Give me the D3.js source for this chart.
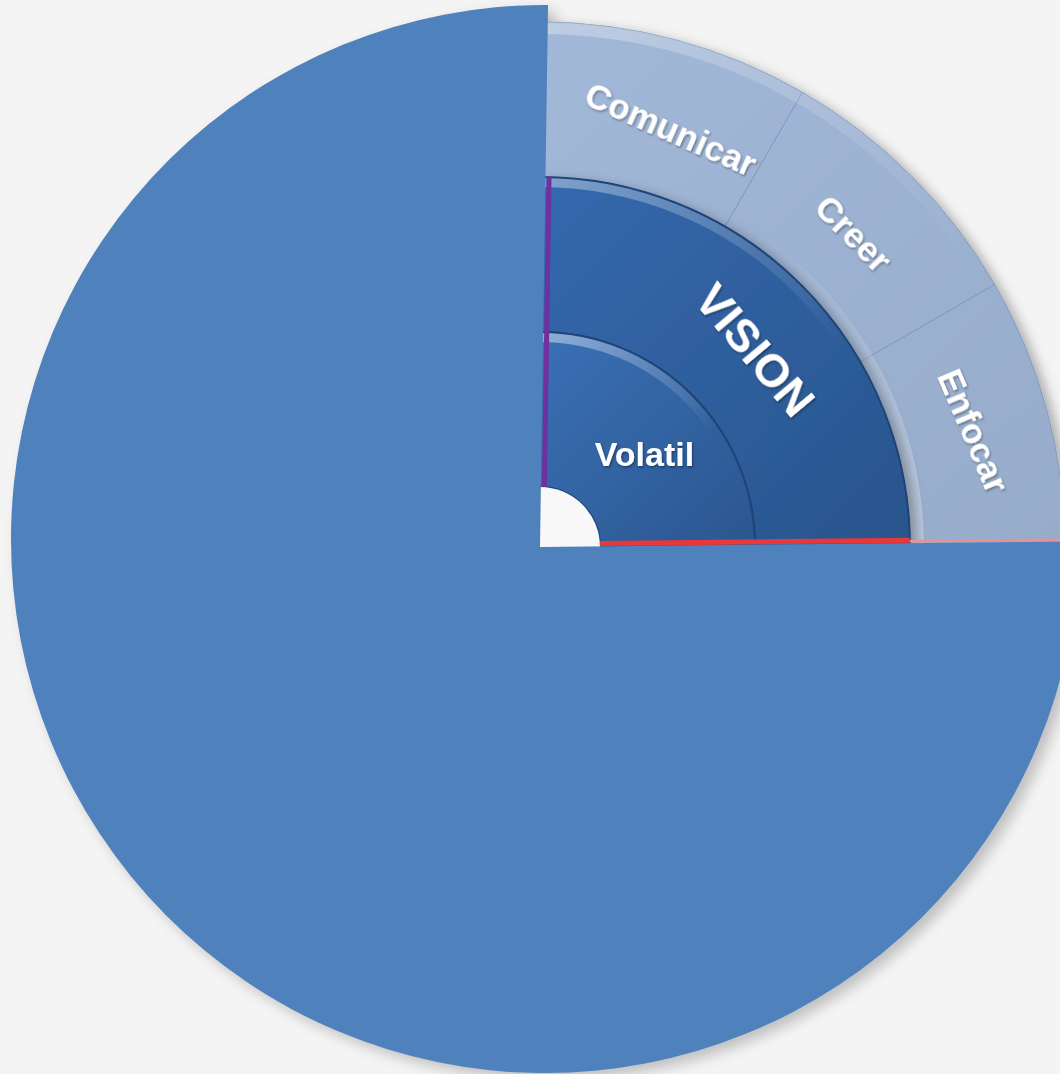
<!DOCTYPE html>
<html><head><meta charset="utf-8">
<script src="https://cdn.jsdelivr.net/npm/d3@7"></script>
<style>html,body{margin:0;padding:0;background:#f4f4f4;} svg{display:block}</style>
</head><body>
<svg id="chart" width="1060" height="1074"></svg>
<script>
// ---- data ----
const pieCategories = ["Cuadrante", "Resto"];
const pieValues = [24.6, 75.4];
const ringLabels = ["Volatil", "VISION"];
const outerCategories = ["Comunicar", "Creer", "Enfocar"];
const outerValues = [1, 1, 1];

// ---- layout ----
const W = 1060, H = 1074;
const cx = 540, cy = 547;
const ccx = 545, ccy = 539, R = 534;
const deg = Math.PI / 180;
const svg = d3.select("#chart");
svg.append("rect").attr("width", W).attr("height", H).attr("fill", "#f4f4f4");
const defs = svg.append("defs");

function lin(id, x1, y1, x2, y2, stops) {
  const g = defs.append("linearGradient").attr("id", id).attr("gradientUnits", "userSpaceOnUse")
    .attr("x1", x1).attr("y1", y1).attr("x2", x2).attr("y2", y2);
  stops.forEach(s => g.append("stop").attr("offset", s[0]).attr("stop-color", s[1]).attr("stop-opacity", s[2] == null ? 1 : s[2]));
}
const rScale = d3.scaleLinear().domain([0, 3]).range([60, 525]);
const r0 = rScale(0), r1 = rScale(1), r2 = rScale(2), r3 = rScale(3);

lin("gInner", 0, -r1, r1, 0, [[0, "#3a70b6"], [1, "#2b568f"]]);
lin("gMid", 0, -r2, r2, 0, [[0, "#3469ae"], [1, "#29548c"]]);
lin("gOuter", 0, -r3, r3, 0, [[0, "#a2b8d8"], [1, "#97accb"]]);
lin("gHiInner", 0, -r1, r1 * 0.75, -r1 * 0.45, [[0, "#ffffff", 0.45], [1, "#ffffff", 0]]);
lin("gHiMid", 0, -r2, r2 * 0.75, -r2 * 0.45, [[0, "#ffffff", 0.38], [1, "#ffffff", 0]]);
lin("gHiOuter", 0, -r3, r3 * 0.75, -r3 * 0.45, [[0, "#ffffff", 0.3], [1, "#ffffff", 0]]);
lin("gHiOuterIn", r2 * 0.5, -r2 * 0.8, r2, 0, [[0, "#ffffff", 0], [1, "#ffffff", 0.35]]);

const fSh = defs.append("filter").attr("id", "ringShadow").attr("x", "-20%").attr("y", "-20%").attr("width", "140%").attr("height", "140%");
fSh.append("feDropShadow").attr("dx", 6).attr("dy", 4).attr("stdDeviation", 6).attr("flood-color", "#000").attr("flood-opacity", 0.3);
const fBlur = defs.append("filter").attr("id", "blur").attr("x", "-10%").attr("y", "-10%").attr("width", "120%").attr("height", "120%");
fBlur.append("feGaussianBlur").attr("stdDeviation", 7);
const fTxt = defs.append("filter").attr("id", "txtShadow").attr("x", "-20%").attr("y", "-40%").attr("width", "140%").attr("height", "180%");
fTxt.append("feDropShadow").attr("dx", 1).attr("dy", 1.5).attr("stdDeviation", 1.2).attr("flood-color", "#000").attr("flood-opacity", 0.4);

// ---- pie layout ----
const startOffset = 0.85 * deg;
const pie = d3.pie().sort(null).startAngle(startOffset).endAngle(startOffset + 2 * Math.PI);
const pieArcs = pie(pieValues);
const big = pieArcs[1];

function hit(angle) {
  const ux = Math.sin(angle), uy = -Math.cos(angle);
  const px = cx - ccx, py = cy - ccy;
  const b = px * ux + py * uy, c = px * px + py * py - R * R;
  const t = -b + Math.sqrt(b * b - c);
  const hx = cx + t * ux, hy = cy + t * uy;
  return { x: hx, y: hy, a: Math.atan2(hy - ccy, hx - ccx) };
}
function bigPath(dx, dy) {
  const s = hit(big.startAngle), e = hit(big.endAngle);
  const p = d3.path();
  p.moveTo(cx + dx, cy + dy);
  p.lineTo(s.x + dx, s.y + dy);
  let ea = e.a; while (ea < s.a) ea += 2 * Math.PI;
  p.arc(ccx + dx, ccy + dy, R, s.a, ea, false);
  p.closePath();
  return p.toString();
}

svg.append("path").attr("d", bigPath(7, 6)).attr("fill", "#000").attr("opacity", 0.22).attr("filter", "url(#blur)");

// ---- sunburst quadrant ----
const g = svg.append("g").attr("transform", `translate(${cx},${cy})`);
const qStart = 0, qEnd = Math.PI / 2;

const angScale = d3.scaleLinear().domain([0, d3.sum(outerValues)]).range([qStart, qEnd]);
let acc = 0;
const outerData = outerValues.map((v, i) => {
  const d = { name: outerCategories[i], a0: angScale(acc), a1: angScale(acc + v) };
  acc += v; return d;
});
const outerArc = d3.arc().innerRadius(r2).outerRadius(r3);
const og = g.append("g").attr("filter", "url(#ringShadow)");
og.selectAll("path.seg").data(outerData).join("path").attr("class", "seg")
  .attr("d", d => outerArc({ startAngle: d.a0, endAngle: d.a1 }))
  .attr("fill", "url(#gOuter)").attr("stroke", "#8399bf").attr("stroke-width", 1);
g.append("path").attr("d", d3.arc().innerRadius(r3 - 12).outerRadius(r3).startAngle(qStart).endAngle(qEnd)())
  .attr("fill", "url(#gHiOuter)");
g.append("path").attr("d", d3.arc().innerRadius(r2).outerRadius(r2 + 14).startAngle(qStart).endAngle(qEnd)())
  .attr("fill", "url(#gHiOuterIn)");

const mg = g.append("g").attr("filter", "url(#ringShadow)");
mg.append("path").attr("d", d3.arc().innerRadius(r1).outerRadius(r2).startAngle(qStart).endAngle(qEnd)())
  .attr("fill", "url(#gMid)").attr("stroke", "#1f4475").attr("stroke-width", 2);
g.append("path").attr("d", d3.arc().innerRadius(r2 - 10).outerRadius(r2 - 1).startAngle(qStart).endAngle(qEnd)())
  .attr("fill", "url(#gHiMid)");

g.append("path").attr("d", d3.arc().innerRadius(r0).outerRadius(r1).startAngle(qStart).endAngle(qEnd)())
  .attr("fill", "url(#gInner)").attr("stroke", "#1f4475").attr("stroke-width", 2);
g.append("path").attr("d", d3.arc().innerRadius(r1 - 10).outerRadius(r1 - 1).startAngle(qStart).endAngle(qEnd)())
  .attr("fill", "url(#gHiInner)");

g.append("circle").attr("r", r0).attr("fill", "#f8f8f8");

const edgeG = g.append("g");
const a0 = pieArcs[0].startAngle, a1 = pieArcs[0].endAngle;
function edgeLine(angle, rin, rout, off, color, w) {
  const s = Math.sin(angle), c = -Math.cos(angle);
  const nx = Math.cos(angle), ny = Math.sin(angle);
  edgeG.append("line")
    .attr("x1", rin * s + off * nx).attr("y1", rin * c + off * ny)
    .attr("x2", rout * s + off * nx).attr("y2", rout * c + off * ny)
    .attr("stroke", color).attr("stroke-width", w);
}
edgeLine(a0, r0, r2, 3.5, "#7030a0", 5);
edgeLine(a1, r0, r2, -3, "#e8383a", 5);
edgeLine(a1, r2, r3 + 20, -2, "#e39393", 2.5);

// ---- big pie slice ----
svg.append("path").attr("d", bigPath(0, 0)).attr("fill", "#4f81bd");

// ---- labels ----
const font = "'Liberation Sans', Arial, sans-serif";
const lg = g.append("g").attr("fill", "#ffffff").attr("font-family", font).attr("font-weight", "bold")
  .attr("filter", "url(#txtShadow)").attr("text-anchor", "middle");
function polar(r, a) { return [r * Math.sin(a), -r * Math.cos(a)]; }
const midQ = (qStart + qEnd) / 2;
{
  const [x, y] = polar((r0 + r1) / 2 + 3, midQ + 3 * deg);
  lg.append("text").attr("x", x).attr("y", y).attr("dy", "0.38em").attr("font-size", 34).text(ringLabels[0]);
}
{
  const a = midQ + 2.5 * deg;
  const [x, y] = polar((r1 + r2) / 2, a);
  lg.append("text").attr("transform", `translate(${x},${y}) rotate(${a / deg + 2.5})`)
    .attr("dy", "0.36em").attr("font-size", 46).text(ringLabels[1]);
}
outerData.forEach((d, i) => {
  const m = (d.a0 + d.a1) / 2;
  const md = m / deg;
  const a = i === 0 ? m + 2.4 * deg : m;
  const rr = 444 + (md - 45) * 0.18;
  const [x, y] = polar(rr, a);
  lg.append("text").attr("transform", `translate(${x},${y}) rotate(${0.72 * md + 13})`)
    .attr("dy", "0.36em").attr("font-size", 35).text(d.name);
});
</script>
</body></html>
